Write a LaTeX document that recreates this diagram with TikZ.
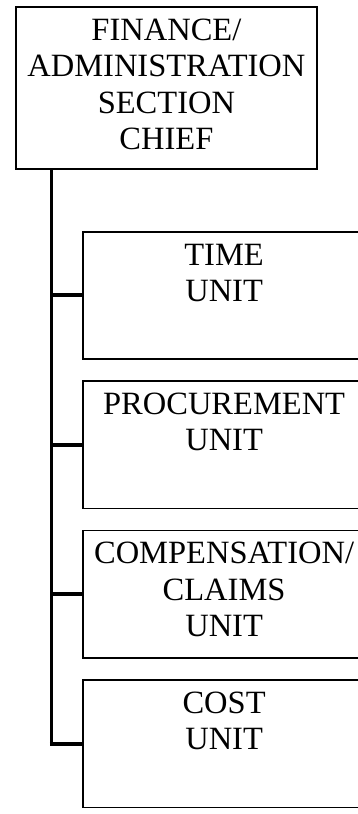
\documentclass[tikz,border=0pt]{standalone}
\usepackage{fontspec}
\setmainfont{Liberation Serif}
\usetikzlibrary{calc}
\newcommand{\boxtext}[3]{\parbox[t][#2][t]{#1}{\centering\fontsize{32.5pt}{36.5pt}\selectfont\rule{0pt}{33.5pt}#3}}
\tikzset{
  orgbox/.style={draw, line width=1.8pt, rectangle, inner sep=0pt, anchor=north west},
  trunk/.style={line width=3.3pt},
  branch/.style={line width=4pt}
}
\begin{document}
\begin{tikzpicture}[x=1pt,y=-1pt]
\useasboundingbox (0,0) rectangle (358,814);
\clip (0,0) rectangle (358,814);
\node[orgbox] (chief) at (15,6) {\boxtext{301pt}{162pt}{FINANCE/\\ADMINISTRATION\\SECTION\\CHIEF}};
\node[orgbox] (time) at (81.7,230.7) {\boxtext{283pt}{127.5pt}{TIME\\UNIT}};
\node[orgbox] (proc) at (81.7,380) {\boxtext{283pt}{127.5pt}{PROCUREMENT\\UNIT}};
\node[orgbox] (comp) at (81.7,529.5) {\boxtext{283pt}{127.5pt}{COMPENSATION/\\CLAIMS\\UNIT}};
\node[orgbox] (cost) at (81.7,679) {\boxtext{283pt}{127.5pt}{COST\\UNIT}};
\coordinate (trunktop) at ($(chief.south west)+(36.5pt,0)$);
\draw[trunk] (trunktop) -- (trunktop |- cost.west);
\draw[branch] (trunktop |- time.west) -- (time.west);
\draw[branch] (trunktop |- proc.west) -- (proc.west);
\draw[branch] (trunktop |- comp.west) -- (comp.west);
\draw[branch] ([xshift=-1.65pt]trunktop |- cost.west) -- (cost.west);
\end{tikzpicture}
\end{document}
